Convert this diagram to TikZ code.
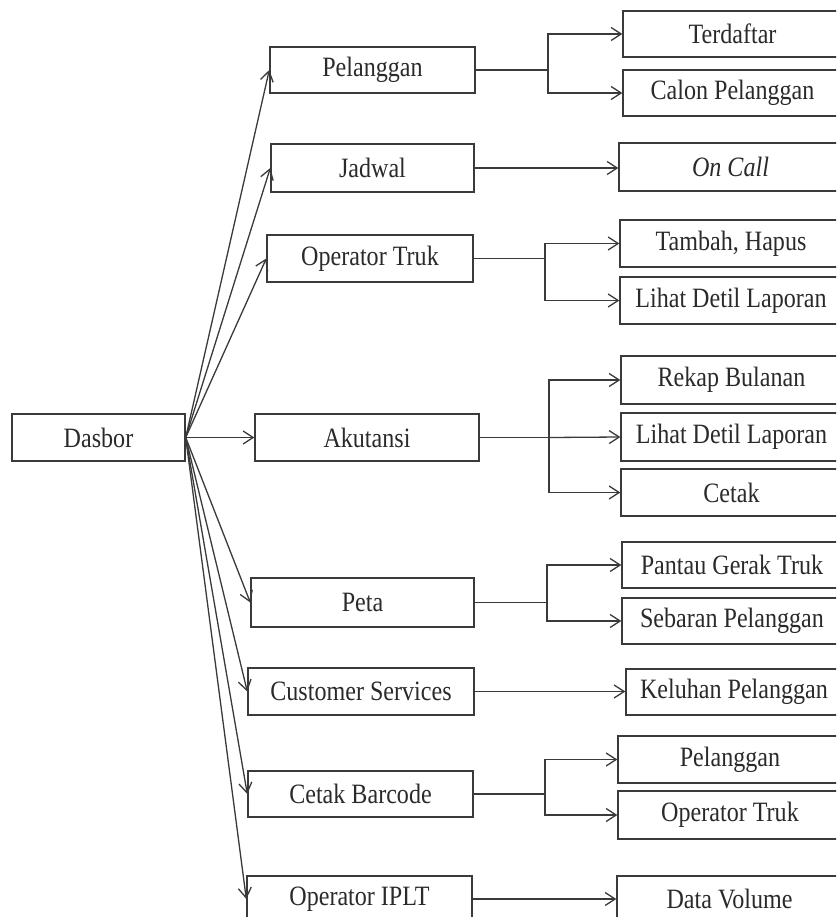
\documentclass[tikz,border=0pt]{standalone}
\usepackage{fontspec}
\setmainfont{Liberation Serif}
\newfontfamily\diafont[FakeStretch=0.86]{Liberation Serif}
\usetikzlibrary{arrows.meta}
\definecolor{ln}{HTML}{3A3A3A}
\definecolor{tx}{HTML}{2A2A2A}
\newcommand\mkbox[6]{\node[box, minimum width={(#4)-(#2)}, minimum height={(#5)-(#3)}] (#1) at ({((#2)+(#4))/2},{((#3)+(#5))/2}) {#6};}
\begin{document}
\begin{tikzpicture}[x=1pt,y=-1pt,
  box/.style={draw=ln, line width=1.4pt, inner sep=0pt, font=\diafont\fontsize{28}{30}\selectfont, text=tx},
  link/.style={draw=ln, line width=1.3pt},
  arr/.style={link, -{Straight Barb[length=10pt,width=13pt,line width=1.3pt]}},
]
\useasboundingbox (0,0) rectangle (836,917);
\clip (0,0) rectangle (836,917);
\fill[white] (0,0) rectangle (836,917);

% left
\mkbox{dasbor}{12}{414}{185}{461}{Dasbor}
% middle
\mkbox{mPel}{270}{47}{475}{93}{Pelanggan}
\mkbox{mJad}{271}{144}{474}{192}{Jadwal}
\mkbox{mOpt}{267}{235}{473}{282}{Operator Truk}
\mkbox{mAku}{255}{414}{479}{461}{Akutansi}
\mkbox{mPeta}{251}{578}{474}{627}{Peta}
\mkbox{mCS}{248}{668}{474}{715}{Customer Services}
\mkbox{mCB}{248}{771}{473}{817}{Cetak Barcode}
\mkbox{mIP}{247}{876}{472}{922}{Operator IPLT}
% right
\mkbox{rTer}{623}{11}{842}{57}{Terdaftar}
\mkbox{rCal}{623}{70}{842}{116}{Calon Pelanggan}
\mkbox{rOn}{619}{143}{842}{191}{\itshape On Call}
\mkbox{rTam}{620}{220}{842}{267}{Tambah, Hapus}
\mkbox{rLd1}{620}{277}{842}{324}{Lihat Detil Laporan}
\mkbox{rRek}{621}{356}{842}{404}{Rekap Bulanan}
\mkbox{rLd2}{621}{413}{842}{461}{Lihat Detil Laporan}
\mkbox{rCet}{621}{469}{842}{516}{Cetak}
\mkbox{rPan}{622}{542}{842}{588}{Pantau Gerak Truk}
\mkbox{rSeb}{622}{598}{842}{644}{Sebaran Pelanggan}
\mkbox{rKel}{626}{669}{842}{715}{Keluhan Pelanggan}
\mkbox{rPel}{618}{736}{842}{783}{Pelanggan}
\mkbox{rOpt}{618}{791}{842}{839}{Operator Truk}
\mkbox{rDV}{617}{876}{842}{922}{Data Volume}

% fan from Dasbor
\foreach \m in {mPel,mJad,mOpt,mAku,mPeta,mCS,mCB,mIP}
  \draw[arr] (dasbor.east) -- (\m.west);

% junction x positions
\coordinate (jx1) at (548,0);
\coordinate (jx2) at (545,0);
\coordinate (jx3) at (549,0);
\coordinate (jx4) at (547,0);
\coordinate (jx5) at (545,0);

% Pelanggan
\draw[link] (mPel.east) -- (mPel.east -| jx1);
\draw[arr] (mPel.east -| jx1) |- (rTer.west);
\draw[arr] (mPel.east -| jx1) |- (rCal.west);
% Jadwal
\draw[arr] (mJad.east) -- (mJad.east -| rOn.west);
% Operator Truk
\draw[link] (mOpt.east) -- (mOpt.east -| jx2);
\draw[arr] (mOpt.east -| jx2) |- (rTam.west);
\draw[arr] (mOpt.east -| jx2) |- (rLd1.west);
% Akutansi
\draw[link] (mAku.east) -- (mAku.east -| jx3);
\draw[arr] (mAku.east -| jx3) |- (rRek.west);
\draw[arr] (mAku.east -| jx3) -- (rLd2.west);
\draw[arr] (mAku.east -| jx3) |- (rCet.west);
% Peta
\draw[link] (mPeta.east) -- (mPeta.east -| jx4);
\draw[arr] (mPeta.east -| jx4) |- (rPan.west);
\draw[arr] (mPeta.east -| jx4) |- (rSeb.west);
% Customer Services
\draw[arr] (mCS.east) -- (mCS.east -| rKel.west);
% Cetak Barcode
\draw[link] (mCB.east) -- (mCB.east -| jx5);
\draw[arr] (mCB.east -| jx5) |- (rPel.west);
\draw[arr] (mCB.east -| jx5) |- (rOpt.west);
% Operator IPLT
\draw[arr] (mIP.east) -- (mIP.east -| rDV.west);
\end{tikzpicture}
\end{document}
